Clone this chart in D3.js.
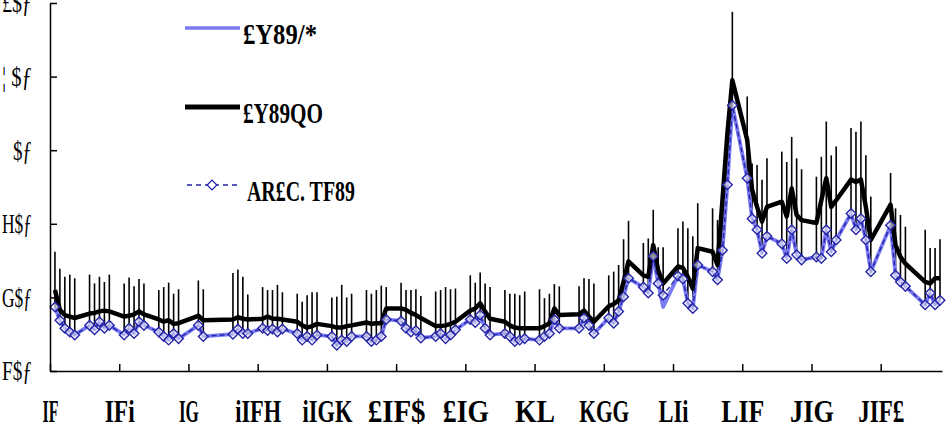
<!DOCTYPE html>
<html lang="en">
<head>
    <meta charset="UTF-8">
    <title>Chart</title>
    <script src="https://cdn.jsdelivr.net/npm/d3@7"></script>
    <style>
        body { margin: 0; background: #fff; }
        text { font-family: "Liberation Serif", "DejaVu Serif", serif; fill: #000; }
    </style>
</head>
<body>
    <div id="chart"></div>

    <script>
        // business days with data (day index from the first tick)
        const days = [1, 2, 3, 4, 5, 8, 9, 10, 11, 12, 15, 16, 17, 18, 19, 22, 23, 24, 25, 26,
            30, 31, 37, 38, 39, 40, 43, 44, 45, 46, 47, 50, 51, 52, 53, 54, 57, 58, 59, 60, 61,
            64, 65, 66, 67, 68, 71, 72, 73, 74, 75, 78, 79, 80, 81, 82, 85, 86, 87, 88, 89,
            92, 93, 94, 95, 96, 99, 100, 101, 102, 103, 107, 108, 109, 110, 113, 114, 115, 116, 117,
            120, 121, 122, 123, 124, 127, 128, 129, 130, 131, 134, 135, 136, 137, 138,
            141, 142, 143, 144, 145, 148, 149, 150, 151, 152, 155, 156, 157, 158, 159,
            162, 163, 164, 165, 166, 170, 171, 172, 173, 177, 178, 179, 180];

        // light blue series
        const seriesA = [0.87, 0.69, 0.58, 0.53, 0.49, 0.62, 0.56, 0.67, 0.58, 0.62, 0.49, 0.58, 0.51, 0.67, 0.62, 0.53, 0.47, 0.42, 0.51, 0.44,
            0.62, 0.47, 0.50, 0.57, 0.51, 0.51, 0.58, 0.55, 0.57, 0.53, 0.57, 0.51, 0.42, 0.47, 0.42, 0.49, 0.47, 0.35, 0.42, 0.40, 0.47,
            0.47, 0.40, 0.42, 0.47, 0.70, 0.68, 0.58, 0.53, 0.55, 0.45, 0.47, 0.51, 0.44, 0.49, 0.56, 0.70, 0.66, 0.76, 0.58, 0.49,
            0.51, 0.47, 0.40, 0.42, 0.44, 0.42, 0.47, 0.51, 0.70, 0.58, 0.58, 0.72, 0.62, 0.51, 0.72, 0.65, 0.81, 1.01, 1.26,
            1.14, 1.06, 1.56, 1.19, 0.87, 1.29, 1.25, 0.92, 0.85, 1.44, 1.35, 1.24, 1.64, 2.53, 3.61,
            2.62, 2.07, 1.92, 1.60, 1.83, 1.73, 1.53, 1.92, 1.58, 1.51, 1.55, 1.53, 1.92, 1.62, 1.78,
            2.14, 1.92, 2.07, 1.78, 1.35, 1.98, 1.30, 1.21, 1.15, 0.90, 1.06, 0.90, 0.96];

        // black series
        const seriesB = [1.10, 0.83, 0.76, 0.74, 0.72, 0.78, 0.79, 0.81, 0.82, 0.81, 0.74, 0.75, 0.77, 0.81, 0.77, 0.70, 0.67, 0.69, 0.64, 0.65,
            0.75, 0.69, 0.70, 0.73, 0.71, 0.70, 0.71, 0.74, 0.71, 0.71, 0.70, 0.67, 0.62, 0.59, 0.61, 0.64, 0.61, 0.59, 0.59, 0.61, 0.62,
            0.66, 0.64, 0.65, 0.65, 0.85, 0.85, 0.83, 0.79, 0.76, 0.72, 0.61, 0.61, 0.62, 0.64, 0.67, 0.82, 0.85, 0.92, 0.81, 0.71,
            0.67, 0.62, 0.59, 0.58, 0.58, 0.58, 0.61, 0.65, 0.85, 0.76, 0.77, 0.82, 0.74, 0.67, 0.88, 0.91, 0.96, 1.21, 1.49,
            1.30, 1.28, 1.71, 1.37, 1.19, 1.42, 1.40, 1.28, 1.12, 1.67, 1.62, 1.44, 2.32, 3.23, 3.95,
            3.14, 2.46, 2.23, 2.03, 2.23, 2.30, 2.10, 2.48, 2.12, 2.05, 2.01, 2.32, 2.62, 2.23, 2.32,
            2.60, 2.57, 2.60, 2.23, 1.78, 2.26, 1.71, 1.55, 1.46, 1.21, 1.19, 1.26, 1.26];

        // dashed series with diamonds
        const seriesC = [0.87, 0.69, 0.58, 0.53, 0.49, 0.62, 0.56, 0.67, 0.58, 0.62, 0.49, 0.58, 0.51, 0.67, 0.62, 0.53, 0.47, 0.42, 0.51, 0.44,
            0.62, 0.47, 0.50, 0.57, 0.51, 0.51, 0.58, 0.55, 0.57, 0.53, 0.57, 0.51, 0.42, 0.47, 0.42, 0.49, 0.47, 0.35, 0.42, 0.40, 0.47,
            0.47, 0.40, 0.42, 0.47, 0.70, 0.68, 0.58, 0.53, 0.55, 0.45, 0.47, 0.51, 0.44, 0.49, 0.56, 0.70, 0.66, 0.76, 0.58, 0.49,
            0.51, 0.47, 0.40, 0.42, 0.44, 0.42, 0.47, 0.51, 0.70, 0.58, 0.58, 0.72, 0.62, 0.51, 0.72, 0.65, 0.81, 1.01, 1.26,
            1.14, 1.06, 1.56, 1.19, 1.03, 1.29, 1.25, 0.92, 0.85, 1.44, 1.35, 1.24, 1.64, 2.53, 3.61,
            2.62, 2.07, 1.92, 1.60, 1.83, 1.73, 1.53, 1.92, 1.58, 1.51, 1.55, 1.53, 1.92, 1.62, 1.78,
            2.14, 1.92, 2.07, 1.78, 1.35, 1.98, 1.30, 1.21, 1.15, 0.90, 1.06, 0.90, 0.96];

        // upper end of the vertical bars
        const barTop = [1.62, 1.39, 1.28, 1.31, 1.26, 1.31, 1.19, 1.28, 1.21, 1.31, 1.19, 1.27, 1.15, 1.25, 1.19, 1.10, 1.14, 1.20, 1.05, 1.11,
            1.23, 1.11, 1.33, 1.38, 1.28, 1.04, 1.14, 1.10, 1.10, 1.17, 1.07, 1.05, 0.94, 1.03, 1.07, 1.07, 1.00, 1.01, 1.17, 1.00, 1.05,
            1.10, 1.05, 1.10, 1.16, 1.14, 1.20, 1.10, 1.10, 1.11, 1.02, 1.08, 1.10, 1.14, 1.11, 1.12, 1.30, 1.20, 1.34, 1.19, 1.14,
            1.10, 1.05, 1.05, 1.03, 1.08, 1.11, 0.99, 1.05, 1.18, 1.15, 1.15, 1.26, 1.25, 1.19, 1.30, 1.35, 1.44, 1.79, 2.04,
            1.74, 1.80, 2.19, 1.68, 1.68, 1.94, 2.03, 1.94, 1.83, 2.28, 2.21, 2.05, 2.45, 3.40, 4.88,
            3.73, 2.82, 2.80, 2.60, 2.89, 2.98, 2.84, 3.18, 2.89, 2.74, 2.64, 2.91, 3.39, 2.93, 3.05,
            3.30, 3.25, 3.39, 2.93, 2.37, 2.69, 2.21, 2.12, 1.96, 1.92, 1.67, 1.67, 1.79];

        const xTicks = [0, 14, 28, 42, 56, 70, 84, 98, 112, 126, 140, 154, 168];
        const xTickLabels = ["IF", "IFi", "IG", "iIFH", "iIGK", "£IF$", "£IG", "KL", "KGG", "LIi", "LIF", "JIG", "JIF£"];
        const xLabelWidths = [16, 30, 20, 46, 50, 58, 46, 40, 50, 30, 43, 44, 46];
        const yTicks = [0, 1, 2, 3, 4, 5];
        const yTickLabels = ["F$ƒ", "G$ƒ", "H$ƒ", "$ƒ", "¦ $ƒ", "£$ƒ"];
        const yLabelWidths = [30, 30, 30, 19, 30, 30];
        const legendLabels = ["£Y89/*", "£Y89QO", "AR£C. TF89"];

        const width = 951, height = 430;
        const blue = "#7a7af2", navy = "#2424a8";

        const svg = d3.select("#chart")
            .append("svg")
            .attr("width", width)
            .attr("height", height);

        const x = d3.scaleLinear().domain([0, 180.4]).range([50, 942]);
        const y = d3.scaleLinear().domain([0, 5]).range([371, 3]);

        const pts = days.map((d, i) => ({ day: d, a: seriesA[i], b: seriesB[i], c: seriesC[i], top: barTop[i] }));

        // squeeze a text horizontally to a given width, keeping its anchor point
        function squeeze(sel, widths, ax) {
            sel.each(function (d, i) {
                const w = this.getComputedTextLength();
                const sx = Math.min(1, widths[i] / w);
                const x0 = ax(i);
                d3.select(this).attr("transform", `translate(${x0 * (1 - sx)},0) scale(${sx},1)`);
            });
        }

        // vertical bars
        svg.append("g")
            .selectAll("line")
            .data(pts)
            .enter()
            .append("line")
            .attr("x1", d => x(d.day))
            .attr("x2", d => x(d.day))
            .attr("y1", d => y(d.c))
            .attr("y2", d => y(d.top))
            .attr("stroke", "#000")
            .attr("stroke-width", 1.6);

        const line = key => d3.line().x(d => x(d.day)).y(d => y(d[key]));

        svg.append("path")
            .datum(pts)
            .attr("d", line("a"))
            .attr("fill", "none")
            .attr("stroke", blue)
            .attr("stroke-width", 3.8)
            .attr("stroke-linejoin", "round");

        svg.append("path")
            .datum(pts)
            .attr("d", line("b"))
            .attr("fill", "none")
            .attr("stroke", "#000")
            .attr("stroke-width", 4.5)
            .attr("stroke-linejoin", "round");

        svg.append("path")
            .datum(pts)
            .attr("d", line("c"))
            .attr("fill", "none")
            .attr("stroke", navy)
            .attr("stroke-width", 1.4)
            .attr("stroke-dasharray", "5,3");

        const diamond = d3.symbol().type(d3.symbolSquare).size(46);

        svg.append("g")
            .selectAll("path")
            .data(pts)
            .enter()
            .append("path")
            .attr("d", diamond)
            .attr("transform", d => `translate(${x(d.day)},${y(d.c)}) rotate(45)`)
            .attr("fill", "#fff")
            .attr("fill-opacity", 0.55)
            .attr("stroke", navy)
            .attr("stroke-width", 1.4);

        // axes
        const xAxis = svg.append("g")
            .attr("transform", `translate(0,${y(0)})`)
            .call(d3.axisBottom(x).tickValues(xTicks).tickSizeInner(-7).tickSizeOuter(0)
                .tickFormat((d, i) => xTickLabels[i]));
        xAxis.select(".domain").attr("stroke-width", 1.5);
        xAxis.selectAll(".tick line").attr("stroke-width", 1.5);
        xAxis.selectAll(".tick text")
            .attr("y", 51)
            .attr("dy", null)
            .attr("font-size", 31)
            .attr("font-weight", "bold")
            .attr("font-family", "Liberation Serif")
            .call(squeeze, xLabelWidths, () => 0);

        const yAxis = svg.append("g")
            .attr("transform", `translate(${x(0)},0)`)
            .call(d3.axisLeft(y).tickValues(yTicks).tickSizeInner(-7).tickSizeOuter(0)
                .tickFormat((d, i) => yTickLabels[i]));
        yAxis.select(".domain").attr("stroke-width", 1.5);
        yAxis.selectAll(".tick line").attr("stroke-width", 1.5);
        yAxis.selectAll(".tick text")
            .attr("x", -18)
            .attr("dy", "0.32em")
            .attr("font-size", 28)
            .attr("font-family", "Liberation Serif")
            .call(squeeze, yLabelWidths, () => -18);

        // legend
        const legend = svg.append("g");
        const legendY = [28, 107, 185];

        legend.append("line")
            .attr("x1", 185).attr("x2", 240).attr("y1", legendY[0]).attr("y2", legendY[0])
            .attr("stroke", blue).attr("stroke-width", 3.5);
        legend.append("line")
            .attr("x1", 185).attr("x2", 240).attr("y1", legendY[1]).attr("y2", legendY[1])
            .attr("stroke", "#000").attr("stroke-width", 5);
        legend.append("line")
            .attr("x1", 187).attr("x2", 237).attr("y1", legendY[2]).attr("y2", legendY[2])
            .attr("stroke", navy).attr("stroke-width", 1.4).attr("stroke-dasharray", "5,4");
        legend.append("path")
            .attr("d", diamond)
            .attr("transform", `translate(212,${legendY[2]}) rotate(45)`)
            .attr("fill", "#fff")
            .attr("stroke", navy)
            .attr("stroke-width", 1.3);

        const legendX = [243, 243, 247];
        const legendW = [74, 80, 108];
        legend.selectAll("text")
            .data(legendLabels)
            .enter()
            .append("text")
            .attr("x", (d, i) => legendX[i])
            .attr("y", (d, i) => legendY[i] + 6)
            .attr("dy", "0.35em")
            .attr("font-size", 30)
            .attr("font-weight", "bold")
            .text(d => d)
            .call(squeeze, legendW, i => legendX[i]);
    </script>
</body>
</html>
